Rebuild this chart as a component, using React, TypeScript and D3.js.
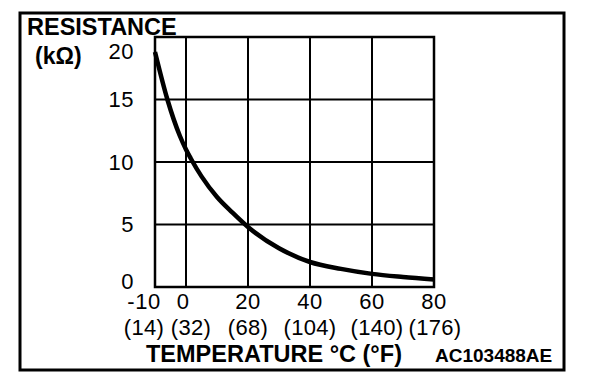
import React from "react";
import * as d3 from "d3";

const tempsC = [-10, -6, -2, 0, 1.5, 5, 10, 15, 20, 30, 40, 50, 60, 70, 80];
const resistanceK = [18.8, 15, 12.1, 11, 10.3, 8.85, 7.2, 5.95, 4.8, 3.1, 2.0, 1.45, 1.05, 0.8, 0.6];

const xTicks = [-10, 0, 20, 40, 60, 80];
const xTicksF = ["(14)", "(32)", "(68)", "(104)", "(140)", "(176)"];
const yTicks = [0, 5, 10, 15, 20];

const yTitle = "RESISTANCE";
const yUnit = "(kΩ)";
const xTitle = "TEMPERATURE °C (°F)";
const code = "AC103488AE";

const FONT = "'Liberation Sans', Arial, Helvetica, sans-serif";

export default function App() {
  const W = 608;
  const H = 386;
  const x = d3.scaleLinear().domain([-10, 80]).range([155, 434]);
  const y = d3.scaleLinear().domain([0, 20]).range([287, 37]);

  const pts: [number, number][] = tempsC.map((t, i) => [t, resistanceK[i]]);
  const line = d3
    .line<[number, number]>()
    .x((d) => x(d[0]))
    .y((d) => y(d[1]))
    .curve(d3.curveMonotoneX);

  const [x0, x1] = x.range();
  const [yb, yt] = y.range();

  const cShift = (v: number) => (v < 0 ? -11 : v === 0 ? -3 : 0);
  const fShift = (v: number) => (v < 0 ? -11 : v === 0 ? 5 : v === 60 ? 5 : v === 80 ? 1 : 0);

  return (
    <svg
      width={W}
      height={H}
      style={{ position: "absolute", left: 0, top: 0, background: "#fff" }}
      fontFamily={FONT}
    >
      <rect x={0} y={0} width={W} height={H} fill="#fff" />
      {/* outer frame */}
      <rect x={20} y={13} width={544} height={357} fill="none" stroke="#000" strokeWidth={3} />

      {/* grid */}
      {yTicks.map((v) => (
        <line key={"gy" + v} x1={x0} x2={x1} y1={y(v)} y2={y(v)} stroke="#000" strokeWidth={2} />
      ))}
      {xTicks.map((v) => (
        <line key={"gx" + v} x1={x(v)} x2={x(v)} y1={yb} y2={yt} stroke="#000" strokeWidth={2} />
      ))}
      <rect x={x0} y={yt} width={x1 - x0} height={yb - yt} fill="none" stroke="#000" strokeWidth={2.5} />

      {/* curve */}
      <path d={line(pts) || ""} fill="none" stroke="#000" strokeWidth={4.5} strokeLinejoin="round" />

      {/* y tick labels */}
      {yTicks.map((v) => (
        <text
          key={"yl" + v}
          x={134}
          y={Math.min(Math.max(y(v), 51), 281) + 7.5}
          textAnchor="end"
          fontSize={22}
          letterSpacing={0.5}
        >
          {v}
        </text>
      ))}

      {/* x tick labels */}
      {xTicks.map((v) => (
        <text key={"xl" + v} x={x(v) + cShift(v)} y={309} textAnchor="middle" fontSize={22} letterSpacing={0.5}>
          {v < 0 ? "-" + Math.abs(v) : v}
        </text>
      ))}
      {xTicks.map((v, i) => (
        <text key={"xf" + v} x={x(v) + fShift(v)} y={335} textAnchor="middle" fontSize={22} letterSpacing={0.3}>
          {xTicksF[i]}
        </text>
      ))}

      {/* titles */}
      <text x={27} y={35} fontSize={23.5} fontWeight="bold">
        {yTitle}
      </text>
      <text x={35} y={64} fontSize={23} fontWeight="bold">
        {yUnit}
      </text>
      <text x={146} y={362} fontSize={23.5} fontWeight="bold">
        {xTitle}
      </text>
      <text x={435} y={362} fontSize={19} fontWeight="bold">
        {code}
      </text>
    </svg>
  );
}
